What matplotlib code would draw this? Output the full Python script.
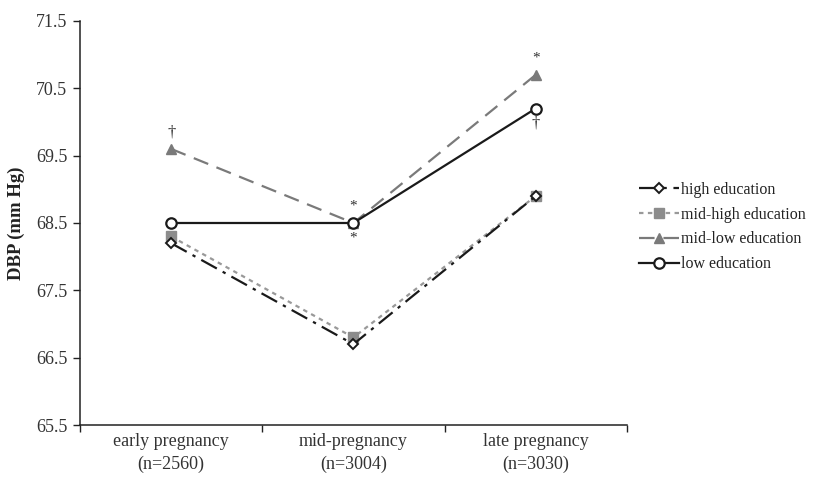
import matplotlib
matplotlib.use("Agg")
import matplotlib.pyplot as plt
from matplotlib.ticker import FixedLocator, NullFormatter

categories = ["early pregnancy\n(n=2560)", "mid-pregnancy\n(n=3004)", "late pregnancy\n(n=3030)"]
high_edu = [68.2, 66.7, 68.9]
mid_high_edu = [68.3, 66.8, 68.9]
mid_low_edu = [69.6, 68.5, 70.7]
low_edu = [68.5, 68.5, 70.2]
y_ticks = [65.5, 66.5, 67.5, 68.5, 69.5, 70.5, 71.5]

plt.rcParams['font.family'] = ['Liberation Serif', 'DejaVu Serif']

fig = plt.figure(figsize=(8.13, 4.79), dpi=100)
ax = fig.add_axes([0.0984, 0.1127, 0.6726, 0.8435])

x = [0, 1, 2]
ax.plot(x, high_edu, color='#1a1a1a', lw=1.6, dashes=(8, 3, 1.5, 3), marker='D', ms=5,
        mfc='white', mec='#1a1a1a', mew=1.4, label='high education', zorder=3)
ax.plot(x, mid_high_edu, color='#999999', lw=1.6, dashes=(2, 2), marker='s', ms=7,
        mfc='#8c8c8c', mec='#8c8c8c', label='mid-high education', zorder=2)
ax.plot(x, mid_low_edu, color='#7a7a7a', lw=1.6, dashes=(7, 4), marker='^', ms=7,
        mfc='#7a7a7a', mec='#7a7a7a', label='mid-low education', zorder=2)
ax.plot(x, low_edu, color='#1a1a1a', lw=1.6, ls='-', marker='o', ms=7.5,
        mfc='white', mec='#1a1a1a', mew=1.6, label='low education', zorder=4)

# annotations
ax.text(0, 69.85, '†', ha='center', va='center', fontsize=12, color='#333333')
ax.text(1, 68.75, '*', ha='center', va='center', fontsize=11, color='#333333')
ax.text(1, 68.28, '*', ha='center', va='center', fontsize=11, color='#333333')
ax.text(2, 70.95, '*', ha='center', va='center', fontsize=11, color='#333333')
ax.text(2, 69.98, '†', ha='center', va='center', fontsize=12, color='#333333')

ax.set_xlim(-0.5, 2.5)
ax.set_ylim(65.5, 71.5)
ax.set_yticks(y_ticks)
ax.set_yticklabels([f"{v:.1f}" for v in y_ticks], fontsize=13, color='#333333')
ax.set_xticks(x)
ax.set_xticklabels(categories, fontsize=13, color='#333333', linespacing=1.4)
ax.tick_params(axis='x', which='major', length=0, pad=6)
ax.xaxis.set_minor_locator(FixedLocator([-0.5, 0.5, 1.5, 2.5]))
ax.xaxis.set_minor_formatter(NullFormatter())
ax.tick_params(axis='x', which='minor', length=5, direction='out', width=1, color='#222222')
ax.tick_params(axis='y', length=5, direction='out', width=1, color='#222222', pad=4)

for s in ['top', 'right']:
    ax.spines[s].set_visible(False)
for s in ['left', 'bottom']:
    ax.spines[s].set_color('#222222')
    ax.spines[s].set_linewidth(1.1)

ax.set_ylabel('DBP (mm Hg)', fontsize=13.5, fontweight='bold', color='#222222', labelpad=8)

leg = ax.legend(loc='center left', bbox_to_anchor=(1.01, 0.49), frameon=False, fontsize=11.5,
                handlelength=2.5, handletextpad=0.15, labelspacing=0.55, borderaxespad=0)
for t in leg.get_texts():
    t.set_color('#222222')

fig.savefig('out.png', dpi=100)
